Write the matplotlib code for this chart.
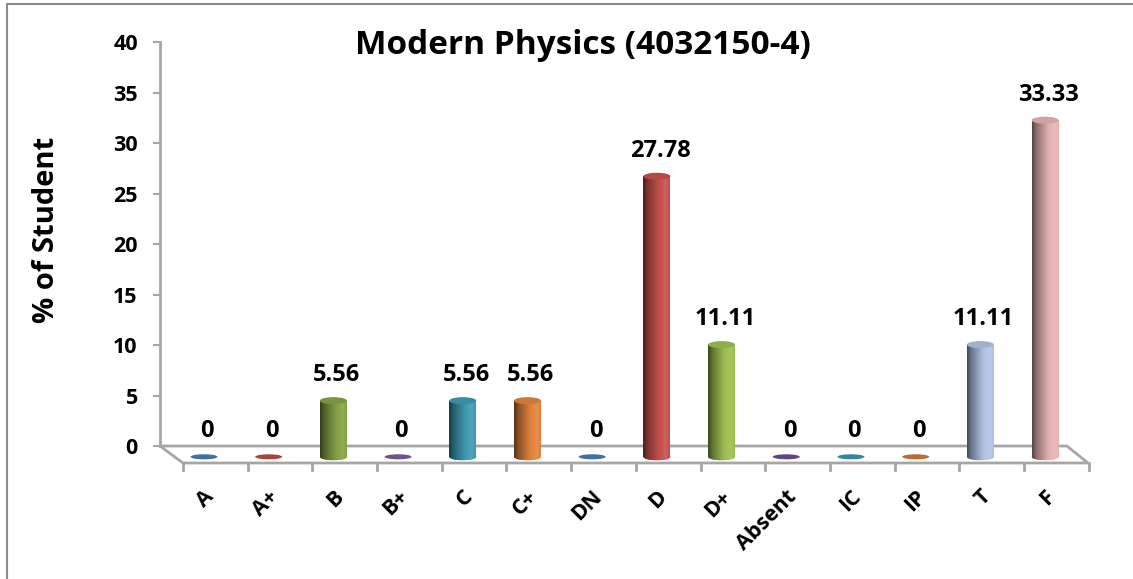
import numpy as np
import matplotlib
matplotlib.use("Agg")
import matplotlib.pyplot as plt
from matplotlib.patches import Ellipse, Polygon
from matplotlib.lines import Line2D
from matplotlib.colors import to_rgb

# chart data
grades = ['A', 'A+', 'B', 'B+', 'C', 'C+', 'DN', 'D', 'D+', 'Absent', 'IC', 'IP', 'T', 'F']
percent = [0, 0, 5.56, 0, 5.56, 5.56, 0, 27.78, 11.11, 0, 0, 0, 11.11, 33.33]
labels = ['0', '0', '5.56', '0', '5.56', '5.56', '0', '27.78', '11.11', '0', '0', '0', '11.11', '33.33']
bar_colors = ['#4f81bd', '#c0504d', '#86a446', '#8064a2', '#409cb4', '#e4843e', '#4f81bd',
              '#c8524f', '#9fc052', '#6f5694', '#3f9cb4', '#d9823c', '#b2c5e6', '#e8b4b4']
y_ticks = [0, 5, 10, 15, 20, 25, 30, 35, 40]
title = 'Modern Physics (4032150-4)'
y_title = '% of Student'

plt.rcParams['font.family'] = ['Open Sans', 'DejaVu Sans']
plt.rcParams['font.weight'] = 'bold'

W, H = 1133, 579
fig = plt.figure(figsize=(W / 100, H / 100), dpi=100)
ax = fig.add_axes([150 / W, 1 - 475 / H, 950 / W, 445 / H])
ax.set_xlim(-0.8346, 13.849)
ax.set_ylim(-2.871, 41.19)

grey = '#a6a6a6'
# floor of the 3d plot
back_l, back_r, front_l, front_r, front_y = -0.68, 13.338, -0.3246, 13.663, -1.683
ax.add_patch(Polygon([(back_l, 0), (back_r, 0), (front_r, front_y), (front_l, front_y)],
                     closed=True, fill=False, edgecolor=grey, lw=2, zorder=1))
for k in range(len(grades) + 1):
    ax.plot([front_l + k, front_l + k], [front_y, front_y - 0.7], color=grey, lw=2,
            clip_on=False, zorder=1)

# y axis
for s in ['top', 'right', 'bottom']:
    ax.spines[s].set_visible(False)
ax.spines['left'].set_position(('data', back_l))
ax.spines['left'].set_bounds(0, 40)
ax.spines['left'].set_color(grey)
ax.spines['left'].set_linewidth(2)
ax.set_yticks(y_ticks)
ax.set_yticklabels([str(t) for t in y_ticks], fontsize=15.5, fontweight='bold')
ax.tick_params(axis='y', length=5, width=1.5, color=grey, pad=11)
ax.set_xticks([])
ax.set_ylabel(y_title, fontsize=21, fontweight='bold')
ax.yaxis.set_label_coords(-0.094, 0.55)


def shade(color, n=40):
    base = np.array(to_rgb(color))
    t = np.linspace(0, 1, n)
    f = np.interp(t, [0, 0.15, 0.6, 0.85, 1], [0.38, 0.6, 0.97, 1.05, 0.98])
    cols = []
    for v in f:
        if v <= 1:
            cols.append(base * v)
        else:
            cols.append(base + (1 - base) * (v - 1) * 2)
    return np.clip(np.array(cols), 0, 1)[None, :, :]


x = np.arange(len(grades))
base = -1.07
w = 0.417
eh = 0.69
bars = ax.bar(x, percent, bottom=base, width=w, color=bar_colors, linewidth=0, zorder=3)
for i, (b, v, c) in enumerate(zip(bars, percent, bar_colors)):
    if v > 0:
        img = shade(c)
        im = ax.imshow(img, extent=(x[i] - w / 2, x[i] + w / 2, base - eh / 2, base + v),
                       aspect='auto', zorder=3, interpolation='bilinear')
        im.set_clip_path(b)
        bot = Ellipse((x[i], base), w, eh, facecolor=c, edgecolor='none', zorder=2.9)
        ax.add_patch(bot)
        im2 = ax.imshow(img, extent=(x[i] - w / 2, x[i] + w / 2, base - eh / 2, base + v),
                        aspect='auto', zorder=2.95, interpolation='bilinear')
        im2.set_clip_path(bot)
        top_c = np.array(to_rgb(c)) * 0.9
        ax.add_patch(Ellipse((x[i], base + v), w, eh, facecolor=top_c, edgecolor='none', zorder=4))
    else:
        flat_c = np.array(to_rgb(c)) * 0.85
        ax.add_patch(Ellipse((x[i], base), w, 0.5, facecolor=flat_c, edgecolor='none', zorder=3))
    ax.text(x[i] + 0.05, v + 1.45, labels[i], ha='center', va='center',
            fontsize=17, fontweight='bold', zorder=5)
    ax.text(x[i] + 0.22, -4.0, grades[i], ha='right', va='top', rotation=45,
            fontsize=15.5, fontweight='bold', clip_on=False)

fig.text(583 / W, 1 - 45 / H, title, ha='center', va='center', fontsize=24, fontweight='bold')

# chart frame (top and left edges visible)
fig.add_artist(Line2D([7 / W, 1], [1 - 4 / H, 1 - 4 / H], color='#8c8c8c', lw=1.5))
fig.add_artist(Line2D([7 / W, 7 / W], [0, 1 - 4 / H], color='#8c8c8c', lw=1.5))

fig.savefig('out.png', dpi=100)
